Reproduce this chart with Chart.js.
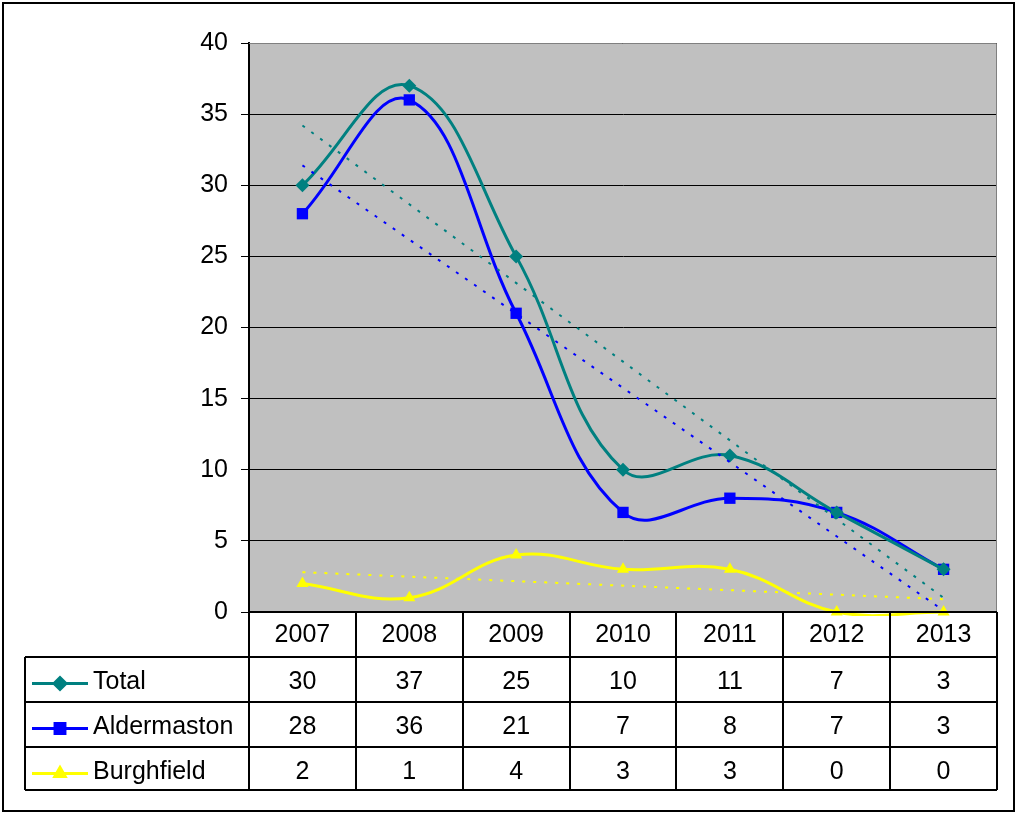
<!DOCTYPE html>
<html>
<head>
<meta charset="utf-8">
<script src="https://cdn.jsdelivr.net/npm/chart.js@4/dist/chart.umd.min.js"></script>
<style>
  html, body { margin: 0; padding: 0; background: #ffffff; }
  #wrap { position: relative; width: 1017px; height: 813px; }
</style>
</head>
<body>
<div id="wrap"><canvas id="chart" width="1017" height="813"></canvas></div>
<script>
const years = ['2007', '2008', '2009', '2010', '2011', '2012', '2013'];
const totalValues = [30, 37, 25, 10, 11, 7, 3];
const aldermastonValues = [28, 36, 21, 7, 8, 7, 3];
const burghfieldValues = [2, 1, 4, 3, 3, 0, 0];

// dotted linear trend lines, start and end
const totalTrend = [34.2, null, null, null, null, null, 1.0];
const aldermastonTrend = [31.4, null, null, null, null, null, 0.1];
const burghfieldTrend = [2.8, null, null, null, null, null, 0.9];

const yTicks = [0, 5, 10, 15, 20, 25, 30, 35, 40];

const FONT = '"Liberation Sans", Arial, sans-serif';
const FONT_SIZE = 25;

const series = [
  { label: 'Total', data: totalValues, color: '#008080', pointStyle: 'rectRot', radius: 7 },
  { label: 'Aldermaston', data: aldermastonValues, color: '#0000ff', pointStyle: 'rect', radius: 8 },
  { label: 'Burghfield', data: burghfieldValues, color: '#ffff00', pointStyle: 'triangle', radius: 7 },
];

const trends = [
  { data: totalTrend, color: '#008080' },
  { data: aldermastonTrend, color: '#0000ff' },
  { data: burghfieldTrend, color: '#ffff00' },
];

const frameAndTable = {
  id: 'frameAndTable',
  beforeDraw(chart) {
    const { ctx, chartArea } = chart;
    ctx.save();
    ctx.fillStyle = '#ffffff';
    ctx.fillRect(0, 0, chart.width, chart.height);
    ctx.fillStyle = '#c0c0c0';
    ctx.fillRect(chartArea.left, chartArea.top, chartArea.right - chartArea.left, chartArea.bottom - chartArea.top);
    ctx.restore();
  },
  afterDraw(chart) {
    const { ctx, chartArea } = chart;
    const xScale = chart.scales.x;
    const rowH = 45;
    const top = chartArea.bottom;
    const left = chartArea.left;
    const right = chartArea.right;
    const legendLeft = 25;

    ctx.save();
    // plot area top / right edge
    ctx.strokeStyle = '#808080';
    ctx.lineWidth = 1;
    ctx.beginPath();
    ctx.moveTo(left, chartArea.top + 0.5);
    ctx.lineTo(right - 0.5, chartArea.top + 0.5);
    ctx.lineTo(right - 0.5, chartArea.bottom);
    ctx.stroke();

    // table grid
    ctx.strokeStyle = '#000000';
    ctx.lineWidth = 2;
    ctx.beginPath();
    ctx.moveTo(left, top);
    ctx.lineTo(right, top);
    for (let r = 1; r <= 4; r++) {
      const y = top + r * rowH - (r === 4 ? 2 : 0);
      ctx.moveTo(legendLeft, y);
      ctx.lineTo(right, y);
    }
    const bottom = top + 4 * rowH - 2;
    ctx.moveTo(legendLeft, top + rowH);
    ctx.lineTo(legendLeft, bottom);
    const step = xScale.getPixelForValue(1) - xScale.getPixelForValue(0);
    for (let i = 0; i <= years.length; i++) {
      const x = Math.round(xScale.getPixelForValue(0) - step / 2 + i * step);
      ctx.moveTo(x, top);
      ctx.lineTo(x, bottom);
    }
    ctx.stroke();

    // text
    ctx.fillStyle = '#000000';
    ctx.font = FONT_SIZE + 'px ' + FONT;
    ctx.textAlign = 'center';
    ctx.textBaseline = 'middle';
    years.forEach((year, i) => {
      ctx.fillText(year, xScale.getPixelForValue(i), top + rowH / 2 + 1);
    });
    series.forEach((s, r) => {
      const cy = top + (r + 1) * rowH + rowH / 2 + 3;
      ctx.textAlign = 'center';
      s.data.forEach((v, i) => {
        ctx.fillText(String(v), xScale.getPixelForValue(i), cy);
      });
      // legend key
      ctx.strokeStyle = s.color;
      ctx.lineWidth = 3;
      ctx.beginPath();
      ctx.moveTo(32, cy + 1);
      ctx.lineTo(88, cy + 1);
      ctx.stroke();
      ctx.fillStyle = s.color;
      Chart.helpers.drawPoint(ctx, {
        pointStyle: s.pointStyle,
        radius: s.radius - 1,
        rotation: 0,
        borderWidth: 1,
      }, 60, cy + 1);
      ctx.fill();
      ctx.fillStyle = '#000000';
      ctx.textAlign = 'left';
      ctx.fillText(s.label, 93, cy);
    });

    // outer frame
    ctx.strokeStyle = '#000000';
    ctx.lineWidth = 2;
    ctx.strokeRect(3, 3, chart.width - 6, chart.height - 5);
    ctx.restore();
  },
};

const datasets = trends.map((t) => ({
  data: t.data,
  borderColor: t.color,
  borderWidth: 2,
  borderDash: [3, 8],
  pointRadius: 0,
  tension: 0,
  spanGaps: true,
  fill: false,
})).concat(series.map((s) => ({
  label: s.label,
  data: s.data,
  borderColor: s.color,
  backgroundColor: s.color,
  borderWidth: 3,
  pointStyle: s.pointStyle,
  pointRadius: s.radius,
  pointBorderWidth: 0,
  tension: 0.4,
  clip: 4,
  fill: false,
})));

new Chart(document.getElementById('chart'), {
  type: 'line',
  data: { labels: years, datasets },
  options: {
    responsive: false,
    animation: false,
    devicePixelRatio: 1,
    layout: { padding: { left: 0, top: 43, right: 20, bottom: 201 } },
    elements: { line: { capBezierPoints: false } },
    plugins: {
      legend: { display: false },
      tooltip: { enabled: false },
    },
    scales: {
      x: {
        type: 'category',
        offset: true,
        display: false,
      },
      y: {
        min: 0,
        max: 40,
        afterBuildTicks(scale) {
          scale.ticks = yTicks.map((v) => ({ value: v }));
        },
        afterFit(scale) {
          scale.width = 249;
        },
        border: { color: '#000000', width: 2 },
        grid: { color: '#000000', lineWidth: 1, tickLength: 8, tickColor: '#000000' },
        ticks: {
          color: '#000000',
          padding: 13,
          font: { family: FONT, size: FONT_SIZE },
        },
      },
    },
  },
  plugins: [frameAndTable],
});
</script>
</body>
</html>
